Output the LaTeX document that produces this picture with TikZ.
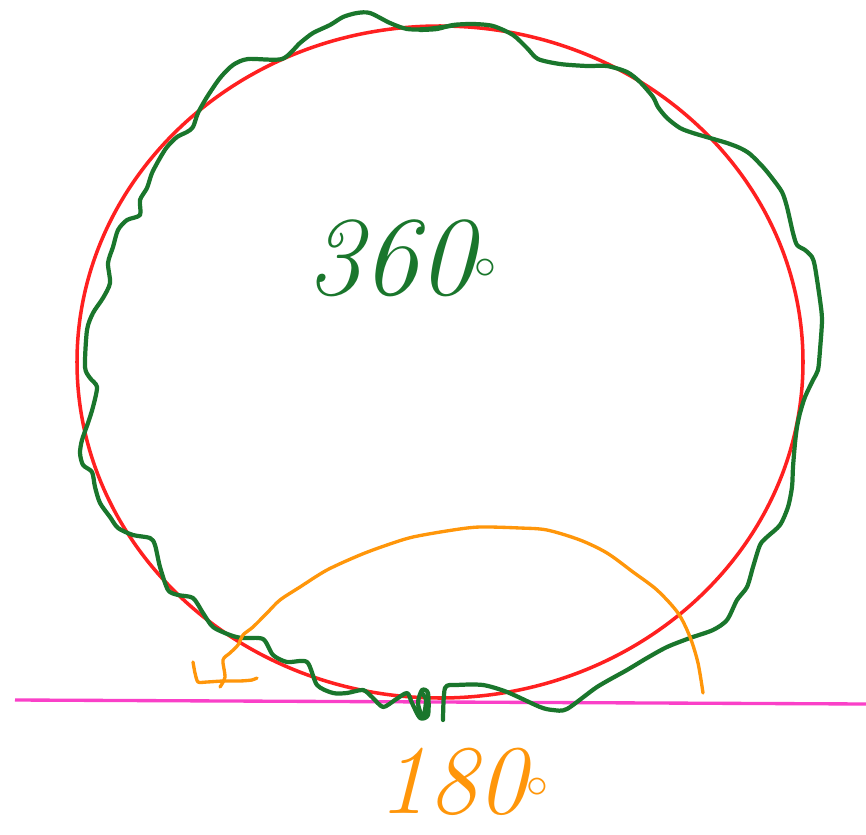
\documentclass[tikz,border=0pt]{standalone}
\begin{document}
\begin{tikzpicture}[x=0.02cm,y=-0.02cm,
  redline/.style={draw=redc,line width=2pt},
  greenline/.style={draw=greenc,line width=2.4pt,line cap=round,line join=round},
  orangeline/.style={draw=orangec,line width=1.9pt,line cap=round,line join=round},
  pinkline/.style={draw=pinkc,line width=1.9pt},
  label/.style={inner sep=0pt,font=\fontsize{64}{70}\selectfont\itshape}]
\definecolor{redc}{RGB}{255,32,32}
\definecolor{greenc}{RGB}{26,118,44}
\definecolor{orangec}{RGB}{255,150,10}
\definecolor{pinkc}{RGB}{250,64,200}
\useasboundingbox[fill=white] (0,0) rectangle (866,835);
% ground line
\coordinate (gl) at (15,700);
\coordinate (gr) at (866,704);
\draw[pinkline] (gl) -- (gr);
% red ellipse
\coordinate (c) at (440,362);
\draw[redline] (c) ellipse [x radius=363, y radius=336];
% green wobbly outline, stroke 1
\draw[greenline] plot[smooth,tension=0.45] coordinates {
(457,25) (427,29) (407,29) (390,23) (370,13) (357,13) (343,17) (330,25) (313,33) (300,43) (282,59) (248,59) (233,65) (220,78) (207,97) (198,113) (193,127) (187,132) (177,137) (167,147) (160,158) (152,173) (147,188) (140,200) (140,215) (127,220) (118,230) (113,247) (108,263) (110,283) (103,298) (93,313) (87,330) (85,367) (90,378) (97,387) (93,407) (88,423) (82,440) (80,453) (83,465) (92,472) (95,487) (100,503) (110,517) (118,528) (133,535) (150,538) (155,545) (160,567) (168,590) (178,595) (193,598) (203,613) (213,627) (230,635) (242,638) (263,639) (273,655) (287,662) (307,662) (317,685) (333,693) (347,693) (363,690) (372,697) (383,707) (395,700) (407,693) (412,703) (420,718) (428,715) (428,693) (422,690) (418,703) (423,718) (426,700) (421,692)};
% green wobbly outline, stroke 2
\draw[greenline] plot[smooth,tension=0.45] coordinates {
(443,720) (445,688) (457,685) (483,685) (507,692) (540,707) (553,710) (567,709) (597,687) (627,670) (647,658) (667,647) (690,638) (713,630) (727,620) (737,600) (747,587) (753,567) (760,545) (767,537) (780,525) (788,507) (792,487) (793,467) (795,443) (797,427) (800,413) (805,397) (813,380) (818,370) (820,350) (822,320) (820,300) (815,267) (812,257) (805,250) (797,245) (793,233) (787,207) (782,192) (772,178) (763,167) (750,154) (740,148) (727,143) (710,138) (693,133) (680,128) (667,118) (658,107) (653,97) (640,82) (627,72) (607,66) (587,66) (560,64) (538,59) (527,48) (513,35) (493,26) (473,24) (453,25) (437,29) (420,30)};
% orange half arc
\draw[orangeline] plot[smooth,tension=0.5] coordinates {
(220,687) (225,677) (223,660) (230,653) (238,645) (243,635) (253,627) (267,613) (280,600) (300,587) (327,570) (360,555) (387,545) (413,537) (453,530) (480,527) (520,528) (547,530) (580,540) (607,553) (633,572) (657,590) (678,613) (690,637) (698,663) (703,693)};
% orange right-angle mark
\draw[orangeline] plot[smooth,tension=0.4] coordinates {
(193,662) (195,673) (198,682) (207,682) (223,681) (240,681) (252,680) (257,678)};
% labels
\node[label,text=greenc] (t360) at (402,258) {360$^{\circ}$};
\node[label,text=orangec,font=\fontsize{56}{62}\selectfont\itshape] (t180) at (464,782) {180$^{\circ}$};
\end{tikzpicture}
\end{document}
